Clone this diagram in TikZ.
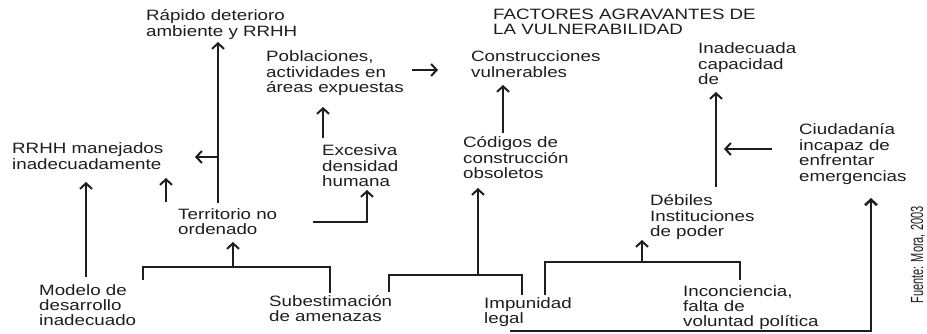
\documentclass[tikz,border=0pt]{standalone}
\usepackage{fontspec}
\setmainfont{Liberation Sans}[FakeStretch=1.25]
\newfontfamily\srcfont{Liberation Sans}
\usetikzlibrary{arrows.meta}
\definecolor{ink}{RGB}{30,30,30}
\newcommand\mlt[1]{\begin{tabular}[t]{@{}l@{}}#1\end{tabular}}
\begin{document}
\begin{tikzpicture}[x=1pt,y=-1pt,
  txt/.style={anchor=base west,inner sep=0pt,text=ink,font=\fontsize{15}{15}\selectfont},
  link/.style={draw=ink,line width=2pt},
  arr/.style={link,-{Straight Barb[length=5.5pt,width=12pt]}}]
\useasboundingbox[fill=white] (0,0) rectangle (927,334);

% texts
\node[txt] (title) at (493,20) {\mlt{FACTORES AGRAVANTES DE\\LA VULNERABILIDAD}};
\node[txt] (rapido) at (146,21) {\mlt{Rápido deterioro\\ambiente y RRHH}};
\node[txt] (rrhh) at (12,154) {\mlt{RRHH manejados\\inadecuadamente}};
\node[txt] (terr) at (178,219) {\mlt{Territorio no\\ordenado}};
\node[txt] (modelo) at (39,295) {\mlt{Modelo de\\desarrollo\\inadecuado}};
\node[txt] (subest) at (269,306) {\mlt{Subestimación\\de amenazas}};
\node[txt] (pobl) at (266,62) {\mlt{Poblaciones,\\actividades en\\áreas expuestas}};
\node[txt] (exces) at (322,156) {\mlt{Excesiva\\densidad\\humana}};
\node[txt] (constr) at (471,62) {\mlt{Construcciones\\vulnerables}};
\node[txt] (codigos) at (463,148) {\mlt{Códigos de\\construcción\\obsoletos}};
\node[txt] (impun) at (484,308) {\mlt{Impunidad\\legal}};
\node[txt] (debiles) at (650,206) {\mlt{Débiles\\Instituciones\\de poder}};
\node[txt] (incon) at (683,296) {\mlt{Inconciencia,\\falta de\\voluntad política}};
\node[txt] (inadec) at (698,54) {\mlt{Inadecuada\\capacidad\\de}};
\node[txt] (ciud) at (799,135) {\mlt{Ciudadanía\\incapaz de\\enfrentar\\emergencias}};
\node[inner sep=0pt,text=ink,rotate=90] (fuente) at (918,255)
  {\scalebox{1}[1.6]{\srcfont\fontsize{11}{11}\selectfont Fuente: Mora, 2003}};

% connector points
\coordinate (t1) at (218,203); \coordinate (t2) at (218,42);
\coordinate (t3) at (218,157); \coordinate (t4) at (195,157);
\coordinate (s1) at (166,202); \coordinate (s2) at (166,178);
\coordinate (m1) at (86,277);  \coordinate (m2) at (86,182);
\coordinate (b1a) at (143,280); \coordinate (b1b) at (143,267);
\coordinate (b1c) at (330,267); \coordinate (b1d) at (330,293);
\coordinate (b1m) at (233,267); \coordinate (b1t) at (233,242);
\coordinate (e1) at (313,222); \coordinate (e2) at (367,222); \coordinate (e3) at (367,190);
\coordinate (p1) at (323,138); \coordinate (p2) at (323,107);
\coordinate (r1) at (412,70);  \coordinate (r2) at (438,70);
\coordinate (c1) at (503,133); \coordinate (c2) at (503,85);
\coordinate (b2a) at (389,292); \coordinate (b2b) at (389,275);
\coordinate (b2c) at (522,275); \coordinate (b2d) at (522,295);
\coordinate (b2m) at (478,275); \coordinate (b2t) at (478,188);
\coordinate (b3a) at (545,295); \coordinate (b3b) at (545,262);
\coordinate (b3c) at (740,262); \coordinate (b3d) at (740,280);
\coordinate (b3m) at (642,262); \coordinate (b3t) at (642,240);
\coordinate (d1) at (716,187); \coordinate (d2) at (716,92);
\coordinate (h1) at (772,149); \coordinate (h2) at (724,149);
\coordinate (g1) at (510,331); \coordinate (g2) at (871,331); \coordinate (g3) at (871,198);

% connectors
\draw[arr] (t1) -- (t2);
\draw[arr] (t3) -- (t4);
\draw[arr] (s1) -- (s2);
\draw[arr] (m1) -- (m2);
\draw[link] (b1a) -- (b1b) -- (b1c) -- (b1d);
\draw[arr] (b1m) -- (b1t);
\draw[arr] (e1) -- (e2) -- (e3);
\draw[arr] (p1) -- (p2);
\draw[arr] (r1) -- (r2);
\draw[arr] (c1) -- (c2);
\draw[link] (b2a) -- (b2b) -- (b2c) -- (b2d);
\draw[arr] (b2m) -- (b2t);
\draw[link] (b3a) -- (b3b) -- (b3c) -- (b3d);
\draw[arr] (b3m) -- (b3t);
\draw[arr] (d1) -- (d2);
\draw[arr] (h1) -- (h2);
\draw[arr,line width=2.5pt] (g1) -- (g2) -- (g3);
\end{tikzpicture}
\end{document}
